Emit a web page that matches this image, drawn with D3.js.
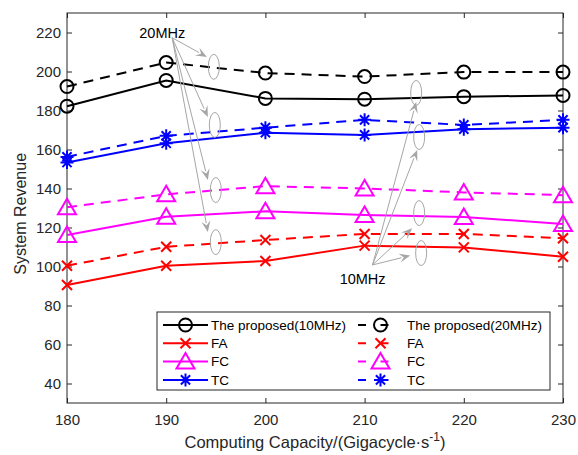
<!DOCTYPE html>
<html>
<head>
<meta charset="utf-8">
<script src="https://cdn.jsdelivr.net/npm/d3@7"></script>
<style>
body { margin: 0; background: #fff; }
text { font-family: "Liberation Sans", Arial, sans-serif; fill: #262626; }
</style>
</head>
<body>
<script>
// chart data
var capacity = [180, 190, 200, 210, 220, 230];
var xTicks = [180, 190, 200, 210, 220, 230];
var yTicks = [40, 60, 80, 100, 120, 140, 160, 180, 200, 220];

var prop10 = [182.2, 195.4, 186.2, 185.8, 187.1, 187.7];
var prop20 = [192.3, 204.6, 199.2, 197.4, 199.7, 199.7];
var fa10 = [90.5, 100.4, 102.8, 110.7, 109.8, 105.0];
var fa20 = [100.4, 110.1, 113.6, 116.7, 116.7, 114.5];
var fc10 = [116.1, 125.5, 128.3, 126.4, 125.4, 121.8];
var fc20 = [130.4, 137.0, 141.2, 140.0, 138.0, 136.6];
var tc10 = [153.3, 163.2, 168.6, 167.5, 170.4, 171.2];
var tc20 = [156.2, 167.0, 171.2, 175.2, 172.6, 175.2];

var legendLabels = ["The proposed(10MHz)", "FA", "FC", "TC",
                    "The proposed(20MHz)", "FA", "FC", "TC"];

// annotations (data units): label, label position, arrow origin, arrow ends, ellipses
var ann20 = {label: "20MHz", at: [189.6, 219.6], from: [190.6, 217.3],
  to: [[194.1, 207.5], [194.2, 176.7], [194.2, 144.4], [194.2, 117.7]],
  ell: [[194.8, 202.4], [194.9, 172.6], [195.0, 139.2], [195.0, 112.5]]};
var ann10 = {label: "10MHz", at: [209.8, 93.6], from: [210.8, 100.8],
  to: [[215.2, 184.4], [215.3, 159.8], [214.8, 119.6], [214.6, 105.6]],
  ell: [[215.2, 189.0], [215.5, 166.4], [215.5, 127.4], [215.7, 106.9]]};

var series = [
  {vals: prop10, color: "#000000", marker: "circle", dash: null},
  {vals: fa10, color: "#ff0000", marker: "x", dash: null},
  {vals: fc10, color: "#ff00ff", marker: "tri", dash: null},
  {vals: tc10, color: "#0000ff", marker: "star", dash: null},
  {vals: prop20, color: "#000000", marker: "circle", dash: "10,7"},
  {vals: fa20, color: "#ff0000", marker: "x", dash: "10,7"},
  {vals: fc20, color: "#ff00ff", marker: "tri", dash: "10,7"},
  {vals: tc20, color: "#0000ff", marker: "star", dash: "10,7"}
];

var W = 578, H = 455;
var margin = {left: 67, right: 15, top: 13, bottom: 52};

var svg = d3.select("body").append("svg")
  .attr("width", W).attr("height", H);

var x = d3.scaleLinear().domain([180, 230]).range([margin.left, W - margin.right]);
var y = d3.scaleLinear().domain([30, 230]).range([H - margin.bottom, margin.top]);

var axisColor = "#262626";

// box
svg.append("rect")
  .attr("x", x(180)).attr("y", y(230))
  .attr("width", x(230) - x(180)).attr("height", y(30) - y(230))
  .attr("fill", "none").attr("stroke", axisColor).attr("stroke-width", 1);

// axes with inward ticks
function styleAxis(g) {
  g.select(".domain").remove();
  g.selectAll(".tick line").attr("stroke", axisColor);
  g.selectAll(".tick text").attr("fill", axisColor)
    .style("font-size", "15px").style("font-family", "Liberation Sans, Arial, sans-serif");
}
svg.append("g").attr("transform", "translate(0," + y(30) + ")")
  .call(d3.axisBottom(x).tickValues(xTicks).tickSizeInner(-5).tickSizeOuter(0).tickPadding(11))
  .call(styleAxis);
svg.append("g").attr("transform", "translate(0," + y(230) + ")")
  .call(d3.axisTop(x).tickValues(xTicks).tickSizeInner(-5).tickSizeOuter(0).tickFormat(""))
  .call(styleAxis);
svg.append("g").attr("transform", "translate(" + x(180) + ",0)")
  .call(d3.axisLeft(y).tickValues(yTicks).tickSizeInner(-5).tickSizeOuter(0).tickPadding(6))
  .call(styleAxis);
svg.append("g").attr("transform", "translate(" + x(230) + ",0)")
  .call(d3.axisRight(y).tickValues(yTicks).tickSizeInner(-5).tickSizeOuter(0).tickFormat(""))
  .call(styleAxis);

// axis labels
svg.append("text")
  .attr("transform", "translate(20," + y(127) + ") rotate(-90)")
  .attr("text-anchor", "middle").attr("dy", "0.35em")
  .style("font-size", "16px").text("System Revenue");
var xl = svg.append("text")
  .attr("x", x(205)).attr("y", 448)
  .attr("text-anchor", "middle").style("font-size", "16.5px");
xl.append("tspan").text("Computing Capacity/(Gigacycle\u00b7s");
xl.append("tspan").attr("dy", -7).style("font-size", "12px").text("-1");
xl.append("tspan").attr("dy", 7).text(")");

// markers
function drawMarker(g, type, color) {
  if (type == "circle") {
    g.append("circle").attr("r", 6.5)
      .attr("fill", "none").attr("stroke", color).attr("stroke-width", 2);
  } else if (type == "x") {
    g.append("path").attr("d", "M-5,-5L5,5M-5,5L5,-5")
      .attr("stroke", color).attr("stroke-width", 2).attr("fill", "none");
  } else if (type == "tri") {
    g.append("path").attr("d", "M0,-8.5L9,7L-9,7Z")
      .attr("stroke", color).attr("stroke-width", 2).attr("fill", "none");
  } else if (type == "star") {
    g.append("path").attr("d", "M-6.5,0L6.5,0M0,-6.5L0,6.5M-4.6,-4.6L4.6,4.6M-4.6,4.6L4.6,-4.6")
      .attr("stroke", color).attr("stroke-width", 2).attr("fill", "none");
  }
}

var line = d3.line()
  .x(function(d, i) { return x(capacity[i]); })
  .y(function(d) { return y(d); });

series.forEach(function(s) {
  svg.append("path")
    .attr("d", line(s.vals))
    .attr("fill", "none").attr("stroke", s.color).attr("stroke-width", 2)
    .attr("stroke-dasharray", s.dash);
  s.vals.forEach(function(v, i) {
    var g = svg.append("g").attr("transform", "translate(" + x(capacity[i]) + "," + y(v) + ")");
    drawMarker(g, s.marker, s.color);
  });
});

// annotations
var grey = "#a6a6a6";
function drawAnnotation(a) {
  var x0 = x(a.from[0]), y0 = y(a.from[1]);
  a.to.forEach(function(t) {
    var x1 = x(t[0]), y1 = y(t[1]);
    var dx = x1 - x0, dy = y1 - y0, len = Math.sqrt(dx * dx + dy * dy);
    var ux = dx / len, uy = dy / len;
    var hl = 11, hw = 4.5;
    var bx = x1 - ux * hl, by = y1 - uy * hl;
    svg.append("line")
      .attr("x1", x0).attr("y1", y0).attr("x2", bx + ux * 2).attr("y2", by + uy * 2)
      .attr("stroke", grey).attr("stroke-width", 1);
    svg.append("path")
      .attr("d", "M" + x1 + "," + y1 +
        "L" + (bx - uy * hw) + "," + (by + ux * hw) +
        "L" + (x1 - ux * hl * 0.6) + "," + (y1 - uy * hl * 0.6) +
        "L" + (bx + uy * hw) + "," + (by - ux * hw) + "Z")
      .attr("fill", grey);
  });
  a.ell.forEach(function(e) {
    svg.append("ellipse")
      .attr("cx", x(e[0])).attr("cy", y(e[1]))
      .attr("rx", 5.5).attr("ry", 12.5)
      .attr("fill", "none").attr("stroke", grey).attr("stroke-width", 1);
  });
  svg.append("text")
    .attr("x", x(a.at[0])).attr("y", y(a.at[1]))
    .attr("text-anchor", "middle").attr("dy", "0.35em")
    .style("font-size", "14.5px").style("fill", "#000").text(a.label);
}
drawAnnotation(ann20);
drawAnnotation(ann10);

// legend
var leg = svg.append("g");
leg.append("rect")
  .attr("x", 157).attr("y", 312).attr("width", 393).attr("height", 78)
  .attr("fill", "#fff").attr("stroke", axisColor).attr("stroke-width", 1);
series.forEach(function(s, i) {
  var col = Math.floor(i / 4), row = i % 4;
  var ly = 325 + row * 18.3;
  var lx0 = col == 0 ? 163 : 358, lx1 = col == 0 ? 208 : 403;
  var lt = col == 0 ? 211 : 407;
  leg.append("line")
    .attr("x1", lx0).attr("x2", lx1).attr("y1", ly).attr("y2", ly)
    .attr("stroke", s.color).attr("stroke-width", 2)
    .attr("stroke-dasharray", s.dash ? "8,14.5" : null);
  var g = leg.append("g").attr("transform", "translate(" + (lx0 + lx1) / 2 + "," + ly + ")");
  drawMarker(g, s.marker, s.color);
  leg.append("text")
    .attr("x", lt).attr("y", ly).attr("dy", "0.35em")
    .style("font-size", "13.5px").style("fill", "#000").text(legendLabels[i]);
});
</script>
</body>
</html>
